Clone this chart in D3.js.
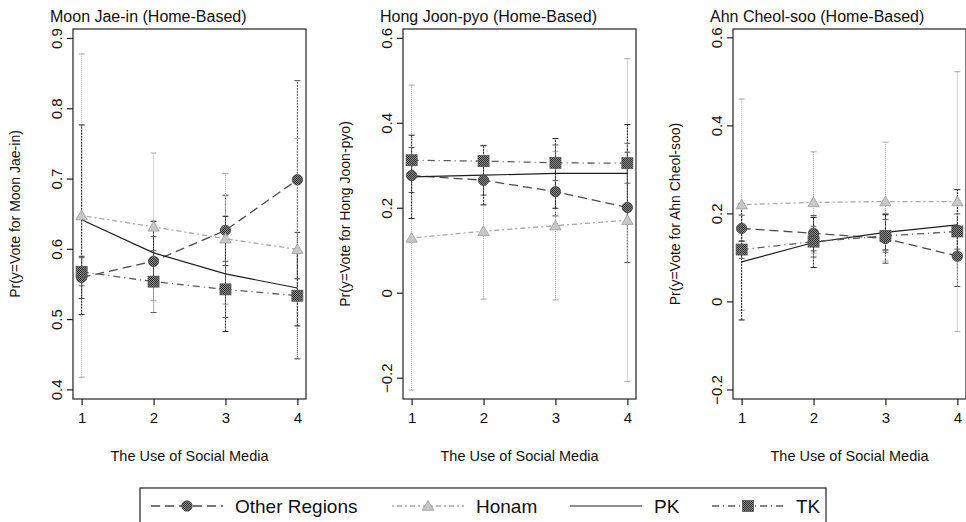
<!DOCTYPE html>
<html>
<head>
<meta charset="utf-8">
<script src="https://cdn.jsdelivr.net/npm/d3@7"></script>
<style>
  body { margin: 0; background: #fff; }
  svg { display: block; font-family: "Liberation Sans", Arial, sans-serif; }
</style>
</head>
<body>
<svg width="966" height="522"></svg>
<script>
// x values and group names
var xVals = [1, 2, 3, 4];
var groups = ["Other Regions", "Honam", "PK", "TK"];
var titles = ["Moon Jae-in (Home-Based)", "Hong Joon-pyo (Home-Based)", "Ahn Cheol-soo (Home-Based)"];
var yTitles = ["Pr(y=Vote for Moon Jae-in)", "Pr(y=Vote for Hong Joon-pyo)", "Pr(y=Vote for Ahn Cheol-soo)"];
var xTitle = "The Use of Social Media";
var yTicksMoon = [0.4, 0.5, 0.6, 0.7, 0.8, 0.9];
var yTicksHong = [-0.2, 0, 0.2, 0.4, 0.6];
var yTicksAhn = [-0.2, 0, 0.2, 0.4, 0.6];

// Moon Jae-in
var moonOther = [0.560, 0.583, 0.627, 0.699];
var moonOtherLo = [0.530, 0.548, 0.577, 0.558];
var moonOtherHi = [0.590, 0.618, 0.677, 0.840];
var moonHonam = [0.648, 0.632, 0.615, 0.600];
var moonHonamLo = [0.418, 0.527, 0.522, 0.445];
var moonHonamHi = [0.878, 0.737, 0.708, 0.758];
var moonPK = [0.642, 0.595, 0.565, 0.545];
var moonPKLo = [0.507, 0.550, 0.483, 0.491];
var moonPKHi = [0.777, 0.640, 0.647, 0.599];
var moonTK = [0.568, 0.554, 0.543, 0.534];
var moonTKLo = [0.548, 0.510, 0.503, 0.444];
var moonTKHi = [0.588, 0.598, 0.583, 0.624];

// Hong Joon-pyo
var hongOther = [0.277, 0.266, 0.239, 0.202];
var hongOtherLo = [0.237, 0.231, 0.182, 0.072];
var hongOtherHi = [0.317, 0.301, 0.296, 0.332];
var hongHonam = [0.130, 0.146, 0.159, 0.172];
var hongHonamLo = [-0.228, -0.014, -0.016, -0.208];
var hongHonamHi = [0.490, 0.306, 0.334, 0.552];
var hongPK = [0.274, 0.278, 0.282, 0.282];
var hongPKLo = [0.176, 0.208, 0.200, 0.167];
var hongPKHi = [0.372, 0.348, 0.364, 0.397];
var hongTK = [0.313, 0.311, 0.307, 0.306];
var hongTKLo = [0.283, 0.275, 0.265, 0.259];
var hongTKHi = [0.343, 0.347, 0.349, 0.353];

// Ahn Cheol-soo
var ahnOther = [0.167, 0.156, 0.144, 0.104];
var ahnOtherLo = [0.137, 0.116, 0.088, 0.035];
var ahnOtherHi = [0.197, 0.196, 0.200, 0.173];
var ahnHonam = [0.221, 0.226, 0.228, 0.228];
var ahnHonamLo = [-0.019, 0.111, 0.093, -0.067];
var ahnHonamHi = [0.461, 0.341, 0.363, 0.523];
var ahnPK = [0.091, 0.135, 0.158, 0.175];
var ahnPKLo = [-0.041, 0.078, 0.118, 0.095];
var ahnPKHi = [0.223, 0.192, 0.198, 0.255];
var ahnTK = [0.119, 0.137, 0.150, 0.160];
var ahnTKLo = [0.099, 0.102, 0.113, 0.120];
var ahnTKHi = [0.139, 0.172, 0.187, 0.200];

var panels = [
  { title: titles[0], ytitle: yTitles[0], ticks: yTicksMoon, dom: [0.387, 0.9135], left: 73,
    series: [[moonOther, moonOtherLo, moonOtherHi], [moonHonam, moonHonamLo, moonHonamHi],
             [moonPK, moonPKLo, moonPKHi], [moonTK, moonTKLo, moonTKHi]] },
  { title: titles[1], ytitle: yTitles[1], ticks: yTicksHong, dom: [-0.249, 0.622], left: 403,
    series: [[hongOther, hongOtherLo, hongOtherHi], [hongHonam, hongHonamLo, hongHonamHi],
             [hongPK, hongPKLo, hongPKHi], [hongTK, hongTKLo, hongTKHi]] },
  { title: titles[2], ytitle: yTitles[2], ticks: yTicksAhn, dom: [-0.2205, 0.62], left: 733,
    series: [[ahnOther, ahnOtherLo, ahnOtherHi], [ahnHonam, ahnHonamLo, ahnHonamHi],
             [ahnPK, ahnPKLo, ahnPKHi], [ahnTK, ahnTKLo, ahnTKHi]] }
];

// line styles per group
var styles = [
  { color: "#4a4a4a", dash: "9,5", bar: "2,1", width: 1.3 },
  { color: "#a8a8a8", dash: "2,3,5,3", bar: "1,1", width: 1.3 },
  { color: "#1e1e1e", dash: null, bar: "2,1", width: 1.2 },
  { color: "#5a5a5a", dash: "7,4,1,4", bar: "1,1", width: 1.3 }
];

var svg = d3.select("svg");
var boxTop = 29, boxH = 370, boxW = 233;
var fontFam = "Liberation Sans, Arial, sans-serif";

var defs = svg.append("defs");
var pat = defs.append("pattern").attr("id", "chk").attr("width", 2).attr("height", 2)
  .attr("patternUnits", "userSpaceOnUse");
pat.append("rect").attr("width", 2).attr("height", 2).attr("fill", "#888");
pat.append("rect").attr("width", 1).attr("height", 1).attr("fill", "#333");
pat.append("rect").attr("x", 1).attr("y", 1).attr("width", 1).attr("height", 1).attr("fill", "#333");

function drawMarker(g, gi, cx, cy) {
  if (gi == 0) {
    g.append("circle").attr("cx", cx).attr("cy", cy).attr("r", 5.2)
      .attr("fill", "url(#chk)").attr("stroke", "#444").attr("stroke-width", 0.8);
  } else if (gi == 1) {
    g.append("path").attr("d", d3.symbol(d3.symbolTriangle, 55)())
      .attr("transform", "translate(" + cx + "," + (cy + 1) + ")")
      .attr("fill", "#c8c8c8").attr("stroke", "#999").attr("stroke-width", 0.8);
  } else if (gi == 2) {
    g.append("path").attr("d", d3.symbol(d3.symbolTimes, 40)())
      .attr("transform", "translate(" + cx + "," + cy + ")")
      .attr("fill", "#222");
  } else {
    g.append("rect").attr("x", cx - 5.5).attr("y", cy - 5.5).attr("width", 11).attr("height", 11)
      .attr("fill", "url(#chk)").attr("stroke", "#555").attr("stroke-width", 0.8);
  }
}

panels.forEach(function(p) {
  var x = d3.scaleLinear().domain([0.88, 4.12]).range([p.left, p.left + boxW]);
  var y = d3.scaleLinear().domain(p.dom).range([boxTop + boxH, boxTop]);
  var g = svg.append("g");

  // error bars
  p.series.forEach(function(s, gi) {
    var st = styles[gi];
    xVals.forEach(function(xv, i) {
      g.append("line").attr("x1", x(xv)).attr("x2", x(xv))
        .attr("y1", y(s[1][i])).attr("y2", y(s[2][i]))
        .attr("stroke", st.color).attr("stroke-width", 1).attr("stroke-dasharray", st.bar);
      [s[1][i], s[2][i]].forEach(function(v) {
        g.append("line").attr("x1", x(xv) - 3).attr("x2", x(xv) + 3)
          .attr("y1", y(v)).attr("y2", y(v)).attr("stroke", st.color).attr("stroke-width", 1);
      });
    });
  });

  // lines
  p.series.forEach(function(s, gi) {
    var st = styles[gi];
    var line = d3.line().x(function(d, i) { return x(xVals[i]); }).y(function(d) { return y(d); });
    g.append("path").attr("d", line(s[0])).attr("fill", "none")
      .attr("stroke", st.color).attr("stroke-width", st.width)
      .attr("stroke-dasharray", st.dash);
  });

  // markers
  p.series.forEach(function(s, gi) {
    s[0].forEach(function(v, i) { drawMarker(g, gi, x(xVals[i]), y(v)); });
  });

  // box
  g.append("rect").attr("x", p.left).attr("y", boxTop).attr("width", boxW).attr("height", boxH)
    .attr("fill", "none").attr("stroke", "#222").attr("stroke-width", 1.2);

  // y axis
  var ya = g.append("g").attr("transform", "translate(" + p.left + ",0)")
    .call(d3.axisLeft(y).tickValues(p.ticks).tickSize(6).tickFormat(d3.format("")));
  ya.attr("font-family", fontFam).attr("font-size", 15);
  ya.select(".domain").remove();
  ya.selectAll("line").attr("stroke", "#222").attr("stroke-width", 1.2);
  ya.selectAll("g.tick").attr("transform", null);
  ya.selectAll("g.tick line").attr("y1", function(d) { return y(d); }).attr("y2", function(d) { return y(d); });
  ya.selectAll("text").attr("fill", "#111")
    .attr("transform", function(d) { return "rotate(-90," + (-11) + "," + y(d) + ")"; })
    .attr("x", -11).attr("y", function(d) { return y(d); }).attr("dy", 0)
    .attr("text-anchor", "middle");

  // x axis
  var xa = g.append("g").attr("transform", "translate(0," + (boxTop + boxH) + ")")
    .call(d3.axisBottom(x).tickValues(xVals).tickSize(6).tickFormat(d3.format("d")));
  xa.attr("font-family", fontFam).attr("font-size", 15);
  xa.select(".domain").remove();
  xa.selectAll("line").attr("stroke", "#222").attr("stroke-width", 1.2);
  xa.selectAll("text").attr("fill", "#111").attr("y", 23.5).attr("dy", 0);

  // titles
  g.append("text").attr("x", p.left - 23).attr("y", 22).attr("font-size", 16).attr("fill", "#111")
    .text(p.title);
  g.append("text").attr("transform", "translate(" + (p.left - 53) + "," + (boxTop + boxH / 2) + ") rotate(-90)")
    .attr("text-anchor", "middle").attr("font-size", 14).attr("fill", "#111").text(p.ytitle);
  g.append("text").attr("x", p.left + boxW / 2).attr("y", 461).attr("text-anchor", "middle")
    .attr("font-size", 14.5).attr("fill", "#111").text(xTitle);
});

// legend
var lg = svg.append("g");
lg.append("rect").attr("x", 140).attr("y", 488).attr("width", 686).attr("height", 40)
  .attr("fill", "none").attr("stroke", "#222").attr("stroke-width", 1.2);
var legX = [151, 392, 570, 712];
groups.forEach(function(name, gi) {
  var st = styles[gi];
  var lx = legX[gi], ly = 506;
  lg.append("line").attr("x1", lx).attr("x2", lx + 72).attr("y1", ly).attr("y2", ly)
    .attr("stroke", st.color).attr("stroke-width", st.width).attr("stroke-dasharray", st.dash);
  drawMarker(lg, gi, lx + 36, ly);
  lg.append("text").attr("x", lx + 84).attr("y", ly + 7).attr("font-size", 19).attr("fill", "#111")
    .text(name);
});
</script>
</body>
</html>
